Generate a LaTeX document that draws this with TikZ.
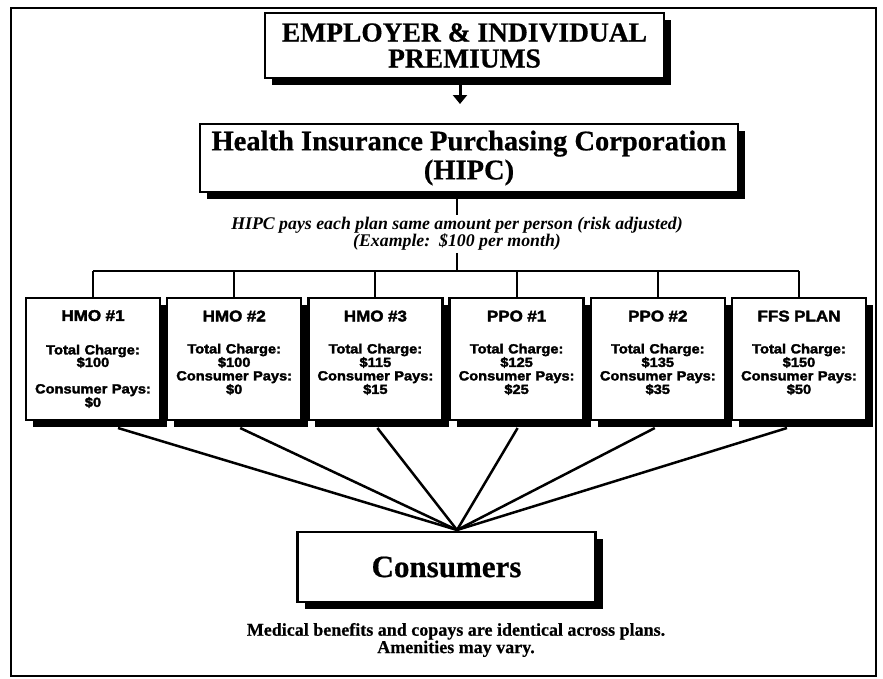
\documentclass[tikz,border=0pt]{standalone}
\usepackage{fontspec}
\setmainfont[BoldFeatures={FakeBold=0.6}]{Liberation Serif}
\newfontfamily\planfont[FakeStretch=1.1,FakeBold=2.2]{Liberation Sans}
\usetikzlibrary{arrows.meta,positioning,shadows}
\tikzset{
  boxed/.style = {draw, line width=2.5pt, fill=white, outer sep=0pt,
                  drop shadow={shadow xshift=7pt, shadow yshift=-7pt, fill=black, opacity=1}},
  head/.style  = {boxed, align=center, font=\bfseries\fontsize{27.5}{26}\selectfont},
  plan/.style  = {boxed, anchor=north, minimum width=134pt, minimum height=122pt,
                  text width=128pt, inner sep=0pt, align=center,
                  font=\planfont\bfseries\fontsize{13.3}{13.5}\selectfont},
  note/.style  = {align=center, inner sep=2pt, font=\bfseries\itshape\fontsize{17.8}{17}\selectfont},
  wire/.style  = {line width=2pt},
  spoke/.style = {line width=2.5pt},
  pointer/.style = {line width=3pt, -{Triangle[width=14pt,length=9pt]}}
}
\newcommand{\plantitle}[1]{{\fontsize{15.5}{15}\selectfont #1}}

\begin{document}
\begin{tikzpicture}[x=1pt,y=-1pt]
\useasboundingbox (0,0) rectangle (883,678);
\draw[line width=2.5pt] (11,8) rectangle (876,676);

% funding chain
\node[head, minimum width=399pt, minimum height=65pt] (prem) at (464.5,45.5)
  {EMPLOYER \& INDIVIDUAL\\PREMIUMS};
\coordinate (drop) at (460,104);
\draw[pointer] (prem.south -| drop) -- (drop);

\node[head, font=\bfseries\fontsize{28.5}{29}\selectfont, minimum width=538pt, minimum height=68pt]
  (hipc) at (469,158) {Health Insurance Purchasing Corporation\\(HIPC)};

\node[note] (rule) at (457,234)
  {HIPC pays each plan same amount per person (risk adjusted)\\(Example:\ \ \$100 per month)};
\draw[wire] (hipc.south -| rule.north) -- (rule.north);

% the six plans
\node[plan] (hmoA) at (93,298) {\plantitle{HMO \#1}\\[20pt] Total Charge:\\[-1pt] \$100\\[13pt] Consumer Pays:\\ \$0};
\node[plan, right=7.2pt of hmoA] (hmoB) {\plantitle{HMO \#2}\\[18.5pt] Total Charge:\\ \$100\\ Consumer Pays:\\ \$0\\ \mbox{}};
\node[plan, right=7.2pt of hmoB] (hmoC) {\plantitle{HMO \#3}\\[18.5pt] Total Charge:\\ \$115\\ Consumer Pays:\\ \$15\\ \mbox{}};
\node[plan, right=7.2pt of hmoC] (ppoA) {\plantitle{PPO \#1}\\[18.5pt] Total Charge:\\ \$125\\ Consumer Pays:\\ \$25\\ \mbox{}};
\node[plan, right=7.2pt of ppoA] (ppoB) {\plantitle{PPO \#2}\\[18.5pt] Total Charge:\\ \$135\\ Consumer Pays:\\ \$35\\ \mbox{}};
\node[plan, right=7.2pt of ppoB] (ffs) {\plantitle{FFS PLAN}\\[18.5pt] Total Charge:\\ \$150\\ Consumer Pays:\\ \$50\\ \mbox{}};

\coordinate (bar) at (457,271);
\draw[wire] (rule.south) -- (bar);
\draw[wire] (bar -| hmoA.north) -- (bar -| ffs.north);
\foreach \p in {hmoA,hmoB,hmoC,ppoA,ppoB,ffs}
  \draw[wire] (bar -| \p.north) -- (\p.north);

% every plan feeds the consumers
\coordinate (hub) at (457,530);
\foreach \p/\dx in {hmoA/25,hmoB/6,hmoC/2,ppoA/1,ppoB/-3,ffs/-12}
  \draw[spoke] ([xshift=\dx pt,yshift=-8pt]\p.south) -- (hub);

\node[boxed, font=\bfseries\fontsize{31}{31}\selectfont, minimum width=298pt, minimum height=70pt]
  (cons) at (446.5,567) {Consumers};
\node[align=center, font=\bfseries\fontsize{18}{16}\selectfont] (remark) at (456,640)
  {Medical benefits and copays are identical across plans.\\Amenities may vary.};
\end{tikzpicture}
\end{document}
